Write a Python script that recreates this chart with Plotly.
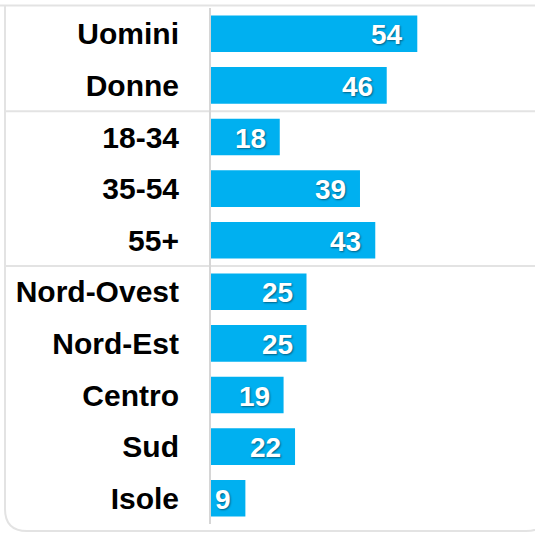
import plotly.graph_objects as go

categories = ["Uomini", "Donne", "18-34", "35-54", "55+",
              "Nord-Ovest", "Nord-Est", "Centro", "Sud", "Isole"]
values = [54, 46, 18, 39, 43, 25, 25, 19, 22, 9]
group_breaks = [1.5, 4.5]  # between Donne/18-34 and 55+/Nord-Ovest

W, H = 535, 533
ML, MR, MT, MB = 211, 18, 8, 9
PW, PH = W - ML - MR, H - MT - MB


def px(x):
    return (x - ML) / PW


def py(y):
    return (H - MB - y) / PH


fig = go.Figure(go.Bar(
    x=values, y=categories, orientation="h",
    marker=dict(color="#00B0F0", line=dict(width=0)),
    hoverinfo="skip",
))

annotations = []
for c, v in zip(categories, values):
    annotations.append(dict(
        x=v, y=c, xref="x", yref="y", text=str(v), showarrow=False,
        xanchor="right", xshift=-12, yshift=-1,
        font=dict(family="Arial, Liberation Sans", size=28, color="white",
                  weight="bold", shadow="1px 1px 2px rgba(0,0,0,0.45)"),
    ))

shapes = []
# card outline (left + bottom with rounded corners)
r = 22
x0, x1, yb = 5, 548, 531
path = (f"M {px(x0)},{py(5)} L {px(x0)},{py(yb - r)} "
        f"Q {px(x0)},{py(yb)} {px(x0 + r)},{py(yb)} "
        f"L {px(x1 - r)},{py(yb)} Q {px(x1)},{py(yb)} {px(x1)},{py(yb - r)} "
        f"L {px(x1)},{py(5)}")
shapes.append(dict(type="path", xref="paper", yref="paper", path=path,
                   line=dict(color="#e3e3e3", width=2), layer="below"))
# top line
shapes.append(dict(type="line", xref="paper", yref="paper",
                   x0=px(0), x1=px(W), y0=py(5.5), y1=py(5.5),
                   line=dict(color="#e3e3e3", width=2), layer="below"))
for b in group_breaks:
    shapes.append(dict(type="line", xref="paper", yref="y",
                       x0=px(x0), x1=px(W), y0=b, y1=b,
                       line=dict(color="#e3e3e3", width=2), layer="below"))

fig.update_layout(
    width=W, height=H,
    margin=dict(l=ML, r=MR, t=MT, b=MB, pad=0),
    paper_bgcolor="white", plot_bgcolor="white",
    bargap=0.29, showlegend=False,
    annotations=annotations, shapes=shapes,
    xaxis=dict(range=[0, 80.1], visible=False, fixedrange=True),
    yaxis=dict(autorange="reversed", showline=True, linecolor="#d6d6d6",
               linewidth=2, ticks="", showgrid=False, zeroline=False,
               ticklabelstandoff=24, fixedrange=True,
               tickfont=dict(family="Arial, Liberation Sans", size=30,
                             color="black", weight="bold")),
)

fig.write_html(
    "out.html",
    config={"displayModeBar": False},
    post_script="document.body.style.margin='0';document.body.style.overflow='hidden';",
)
